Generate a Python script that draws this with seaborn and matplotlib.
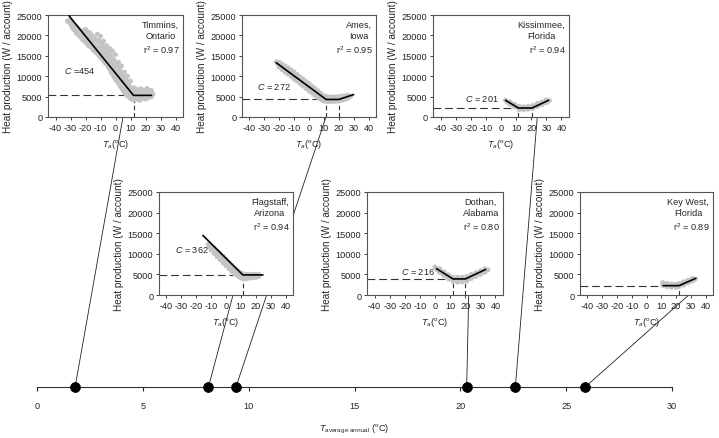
import matplotlib
matplotlib.use("Agg")
import matplotlib.pyplot as plt
from matplotlib.patches import ConnectionPatch
import seaborn as sns
import pandas as pd

# ---- data ----
cities = ["Timmins,\nOntario", "Ames,\nIowa", "Kissimmee,\nFlorida",
          "Flagstaff,\nArizona", "Dothan,\nAlabama", "Key West,\nFlorida"]
r2_vals = [0.97, 0.95, 0.94, 0.94, 0.80, 0.89]
c_labels = ["C =454", "C = 272", "C = 201", "C = 362", "C = 216", None]
t_annual = [1.8, 9.4, 22.6, 8.1, 20.3, 25.9]

# scatter clouds (Ta in degC, heat production W / account)
tim_t = [-32, -31, -30, -30, -29, -29, -28, -28, -27, -27, -26, -26, -25, -25,
         -24, -24, -23, -23, -22, -22, -22, -21, -21, -21, -20, -20, -20,
         -19, -19, -19, -18, -18, -18, -17, -17, -17, -16, -16, -16,
         -15, -15, -15, -14, -14, -14, -13, -13, -13, -12, -12, -12,
         -11, -11, -11, -10, -10, -10, -10, -9, -9, -9, -8, -8, -8, -8,
         -7, -7, -7, -6, -6, -6, -6, -5, -5, -5, -4, -4, -4, -4,
         -3, -3, -3, -2, -2, -2, -2, -1, -1, -1, 0, 0, 0, 0, 1, 1, 1,
         2, 2, 2, 2, 3, 3, 3, 4, 4, 4, 4, 5, 5, 5, 6, 6, 6, 6, 7, 7, 7,
         8, 8, 8, 8, 9, 9, 9, 10, 10, 10, 10, 11, 11, 11, 12, 12, 12, 12,
         13, 13, 13, 14, 14, 14, 15, 15, 15, 16, 16, 16, 17, 17, 17,
         18, 18, 18, 19, 19, 19, 20, 20, 20, 21, 21, 21, 22, 22, 22,
         23, 23, 23, 24, 24, 24, 25]
tim_q = [23500, 23200, 22800, 23800, 22000, 23300, 21500, 22600, 21200, 22400,
         20500, 22000, 20400, 21700, 19800, 21300, 19500, 20800, 19000, 21000, 20000,
         18800, 20400, 21200, 18300, 21500, 19600, 18000, 19800, 21000,
         17500, 20500, 19000, 17300, 19000, 20600, 17000, 20000, 18400,
         16500, 18300, 19800, 16200, 19200, 17500, 15800, 17200, 19000,
         15500, 18500, 20300, 15000, 16800, 18800, 14600, 17800, 19800, 16200,
         14200, 16000, 18000, 13800, 17000, 18600, 15500, 13300, 15200, 17000,
         13000, 16000, 17500, 14500, 12300, 14300, 16000, 11800, 15000, 16800, 13500,
         11000, 13200, 15000, 10500, 14200, 12500, 16200, 9800, 12000, 14000,
         9200, 13000, 11000, 15300, 8800, 10800, 12600,
         8300, 12000, 10000, 13400, 7600, 9600, 11500, 7200, 10800, 9000, 12500,
         6600, 8500, 10200, 6000, 9600, 8000, 11000, 5600, 7300, 9000,
         5200, 8200, 6800, 10000, 4900, 6300, 7800, 4600, 7000, 5800, 8800,
         4400, 5600, 6800, 4200, 6200, 5200, 7200,
         4300, 5800, 7000, 4500, 6500, 5400, 4600, 5300, 6200, 4100, 6800, 5600,
         4400, 5800, 6900, 4700, 6200, 5300, 4800, 5500, 6400, 4400, 6600, 5800,
         4600, 6000, 7000, 4800, 6300, 5500, 4900, 5700, 6400, 5000, 6500, 5900, 5600]

ames_t = [-22, -21, -20, -20, -19, -18, -18, -17, -16, -16, -15, -14, -14, -13,
          -12, -12, -11, -10, -10, -9, -8, -8, -7, -6, -6, -5, -4, -4, -3,
          -2, -2, -1, 0, 0, 1, 2, 2, 3, 4, 4, 5, 6, 6, 7, 8, 8, 9, 10, 10,
          11, 12, 12, 13, 14, 14, 15, 16, 16, 17, 18, 18, 19, 20, 20, 21,
          22, 22, 23, 24, 24, 25, 26, 26, 27, 28]
ames_q = [13500, 13000, 12200, 13400, 12700, 11600, 12900, 12200, 11000, 12500,
          11700, 10500, 12000, 11200, 10000, 11500, 10600, 9300, 11000, 10000,
          8800, 10400, 9500, 8200, 9800, 8900, 7600, 9300, 8300, 7000, 8700, 7800,
          6400, 8200, 7200, 5900, 7500, 6600, 5300, 7000, 6000, 4800, 6400, 5500,
          4300, 5800, 5000, 3900, 5200, 4500, 3800, 5000, 4400,
          3800, 4900, 4300, 3800, 4900, 4300, 3900, 4900, 4400, 3900, 5000, 4500,
          4100, 5100, 4600, 4300, 5200, 4800, 4600, 5300, 5000, 5100]

kiss_t = [3, 4, 5, 6, 6, 7, 8, 9, 9, 10, 11, 12, 12, 13, 14, 15, 15, 16, 17,
          18, 18, 19, 20, 21, 21, 22, 23, 24, 24, 25, 26, 27, 27, 28, 29,
          30, 30, 31, 32]
kiss_q = [4100, 3700, 3500, 3100, 3700, 3200, 2900, 2500, 3100, 2600, 2400,
          1800, 2600, 2200, 2100, 1800, 2500, 2200, 2100, 1900, 2600, 2300,
          2300, 2100, 2800, 2500, 2700, 2600, 3300, 3000, 3200, 3000, 3700,
          3400, 3600, 3500, 4200, 3900, 4000]

flag_t = [-12, -11, -10, -10, -9, -8, -8, -7, -6, -6, -5, -4, -4, -3, -2, -2, -1,
          0, 0, 1, 2, 2, 3, 4, 4, 5, 6, 6, 7, 8, 8, 9, 10, 10, 11, 12, 12, 13,
          14, 14, 15, 16, 16, 17, 18, 18, 19, 20, 20, 21, 22, 22]
flag_q = [12300, 11700, 10900, 11900, 11200, 10100, 11400, 10600, 9300, 10700,
          9900, 8600, 10100, 9200, 7800, 9400, 8500, 7100, 8700, 7800,
          6400, 7900, 7100, 5700, 7200, 6400, 5100, 6500, 5700, 4600, 5900, 5200,
          4100, 5400, 4700, 3900, 5100, 4500, 4000, 5000, 4500, 4100, 5000, 4600,
          4200, 5000, 4600, 4300, 5000, 4600, 4500, 5000]

doth_t = [0, 1, 2, 3, 3, 4, 5, 6, 6, 7, 8, 9, 9, 10, 11, 12, 12, 13, 14, 15, 15,
          16, 17, 18, 18, 19, 20, 21, 21, 22, 23, 24, 24, 25, 26, 27, 27, 28, 29,
          30, 30, 31, 32, 33, 33, 34, 35]
doth_q = [6800, 6200, 6000, 5500, 6400, 5700, 5200, 4700, 5600, 4900, 4500,
          3900, 4900, 4200, 3900, 3300, 4300, 3800, 3600, 3100, 4300, 3700,
          3600, 3200, 4300, 3800, 3800, 3400, 4500, 4000, 4300, 4000, 5000, 4600,
          4700, 4500, 5400, 5000, 5200, 5000, 5900, 5500, 5700, 5500, 6300, 6000, 6100]

keyw_t = [11, 11, 12, 13, 14, 14, 15, 16, 17, 17, 18, 19, 20, 20, 21, 22, 22,
          23, 24, 25, 25, 26, 27, 28, 28, 29, 30, 31, 31, 32, 33]
keyw_q = [2300, 3000, 2700, 2500, 2000, 2800, 2400, 2300, 1900, 2700, 2300,
          2200, 1900, 2600, 2300, 2000, 2800, 2500, 2800, 2400, 3200, 2900, 3100,
          2900, 3600, 3300, 3500, 3400, 4000, 3700, 3900]

# piecewise-linear fits
tim_fit_t, tim_fit_q = [-31, 12, 24], [24800, 5300, 5300]
ames_fit_t, ames_fit_q = [-22, 11.5, 20, 30], [13300, 4300, 4300, 5500]
kiss_fit_t, kiss_fit_q = [3, 11.5, 20.5, 31.5], [4100, 2200, 2200, 4100]
flag_fit_t, flag_fit_q = [-15.5, 11.3, 24.8], [14450, 4870, 4870]
doth_fit_t, doth_fit_q = [1, 11.9, 20.1, 33.5], [6400, 3900, 3900, 6200]
keyw_fit_t, keyw_fit_q = [11.3, 22, 33.4], [2270, 2270, 4060]

# breakpoints (dashed guides)
base_q = [5300, 4300, 2200, 4870, 3900, 2270]
break_t = [[12], [11.5, 20], [11.5, 20.5], [11.3], [11.9, 20.1], [22]]

# where each connector leaves its panel (Ta on the panel's x axis)
link_t = [5, 11.4, 24, 4.7, 22.3, 28.6]
# C label anchors (left edge) in panel data coords
c_pos = [(-34, 11500), (-35, 7500), (-24, 4600), (-34, 11200), (-22.7, 5900), None]

# ---- styling ----
sns.set_style("ticks")
plt.rcParams['font.family'] = ['Liberation Sans', 'DejaVu Sans']
plt.rcParams['mathtext.fontset'] = 'custom'
plt.rcParams['mathtext.rm'] = 'Liberation Sans'
plt.rcParams['mathtext.it'] = 'Liberation Sans:italic'
plt.rcParams['axes.unicode_minus'] = False
plt.rcParams['axes.edgecolor'] = '#555555'
plt.rcParams['axes.linewidth'] = 0.8

W, H = 719, 439
fig = plt.figure(figsize=(W / 100, H / 100), dpi=100)
fig.patch.set_facecolor('white')

# panel boxes in pixels: left, top, width, height
boxes = [(48, 16, 135, 102), (242, 16, 134, 102), (433, 16, 136, 102),
         (159, 193, 134, 103), (367, 193, 136, 103), (580, 193, 133, 103)]

clouds = [(tim_t, tim_q), (ames_t, ames_q), (kiss_t, kiss_q),
          (flag_t, flag_q), (doth_t, doth_q), (keyw_t, keyw_q)]
fits = [(tim_fit_t, tim_fit_q), (ames_fit_t, ames_fit_q), (kiss_fit_t, kiss_fit_q),
        (flag_fit_t, flag_fit_q), (doth_fit_t, doth_fit_q), (keyw_fit_t, keyw_fit_q)]

fs = 6.6
panels = []
for i, (l, t, w, h) in enumerate(boxes):
    ax = fig.add_axes([l / W, (H - t - h) / H, w / W, h / H])
    ct, cq = clouds[i]
    df = pd.DataFrame({"Ta": ct, "Q": cq})
    sns.scatterplot(data=df, x="Ta", y="Q", color='#c4c4c4', s=13,
                    edgecolor='none', ax=ax, zorder=2)
    ft, fq = fits[i]
    ax.hlines(base_q[i], -45, break_t[i][0], colors='#333333', lw=0.8,
              linestyles=(0, (7, 3.5)), zorder=1)
    ax.vlines(break_t[i], 0, base_q[i], colors='#333333', lw=0.8,
              linestyles=(0, (4, 2.5)), zorder=1)
    sns.lineplot(x=ft, y=fq, color='black', lw=1.2, sort=False,
                 estimator=None, ax=ax, zorder=3)
    ax.set_xlim(-45, 45)
    ax.set_ylim(0, 25000)
    ax.set_xticks(range(-40, 41, 10))
    ax.set_yticks(range(0, 25001, 5000))
    ax.tick_params(labelsize=fs, length=2, width=0.6, pad=2, colors='#222222')
    ax.set_xlabel(r'$T_a$($^{\rm o}$C)', fontsize=fs, labelpad=4)
    ax.set_ylabel('Heat production (W / account)', fontsize=7.2, labelpad=2.5)
    ax.text(0.97, 0.95, cities[i], transform=ax.transAxes, ha='right', va='top',
            multialignment='center', fontsize=fs, linespacing=1.25)
    ax.text(0.975, 0.665, r'r$^2$ = %.2f' % r2_vals[i], transform=ax.transAxes,
            ha='right', va='center', fontsize=fs)
    if c_labels[i] is not None:
        cx, cy = c_pos[i]
        ax.text(cx, cy, r'$C$' + c_labels[i][1:], ha='left', va='center', fontsize=fs)
    panels.append(ax)

# bottom temperature axis
bax = fig.add_axes([37 / W, (H - 388) / H, 635 / W, 0.02])
bax.patch.set_alpha(0)
for s in ['left', 'right', 'top']:
    bax.spines[s].set_visible(False)
bax.spines['bottom'].set_color('#333333')
bax.set_xlim(0, 30)
bax.set_ylim(0, 1)
bax.set_yticks([])
bax.set_xticks(range(0, 31, 5))
bax.tick_params(axis='x', labelsize=fs, length=3, width=0.8, pad=7)
sns.scatterplot(x=t_annual, y=[0] * len(t_annual), color='black', s=50,
                edgecolor='black', ax=bax, clip_on=False, zorder=5)
bax.set_xlabel(r'$T_{\rm average\ annual}$ ($^{\rm o}$C)', fontsize=fs, labelpad=9)

# connectors from each panel down to its annual mean temperature
for i, ax in enumerate(panels):
    con = ConnectionPatch(xyA=(link_t[i], 0), coordsA=ax.transData,
                          xyB=(t_annual[i], 0), coordsB=bax.transData,
                          color='#222222', lw=0.6, zorder=-1)
    fig.add_artist(con)

fig.savefig("out.png", dpi=100, facecolor='white')
